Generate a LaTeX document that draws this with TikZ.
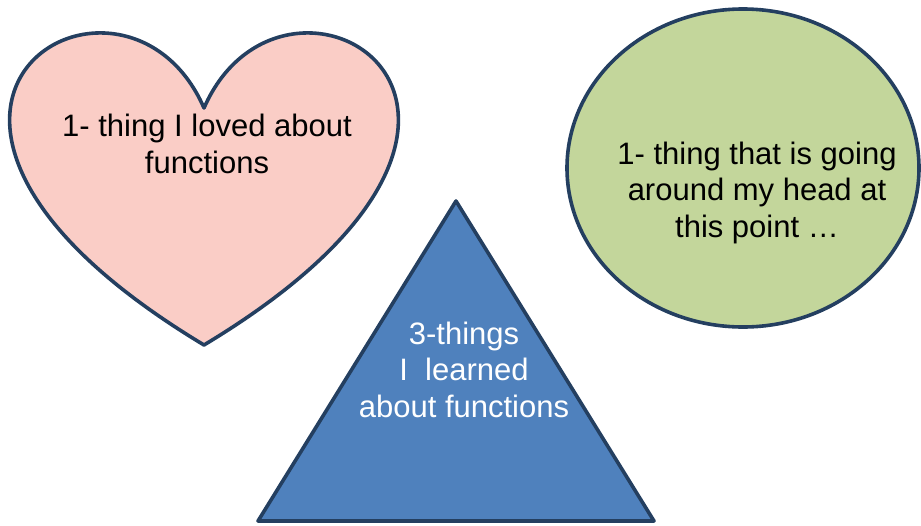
\documentclass[tikz,border=0pt]{standalone}
\usepackage{fontspec}
\setmainfont{Liberation Sans}
\definecolor{outl}{HTML}{243F60}
\definecolor{heartfill}{HTML}{FACDC6}
\definecolor{ovalfill}{HTML}{C3D69B}
\definecolor{trifill}{HTML}{4F81BD}
\begin{document}
\begin{tikzpicture}[x=1pt,y=-1pt,
  shapeline/.style={draw=outl,line width=3.6pt,line join=round},
  lbl/.style={font=\fontsize{31}{36.5}\selectfont,align=center,inner sep=0pt,anchor=base}]
\useasboundingbox (0,0) rectangle (921,525);
\begin{scope}
\clip (0,0) rectangle (921,525);
% heart
\coordinate (dip) at (204,108);
\coordinate (tip) at (204,345);
\draw[shapeline,fill=heartfill] (dip) .. controls (284.4,-76.3) and (598,108) .. (tip)
  .. controls (-190,108) and (123.6,-76.3) .. (dip) -- cycle;
% oval
\draw[shapeline,fill=ovalfill] (743,168) ellipse [x radius=176, y radius=159];
% triangle
\coordinate (apex) at (456,201);
\coordinate (bl) at (258,521);
\coordinate (br) at (654,521);
\draw[shapeline,fill=trifill] (apex) -- (br) -- (bl) -- cycle;
\end{scope}
\node[lbl] (heartText) at (207,173) {1- thing I loved about\\functions};
\node[lbl] (ovalText) at (757,237) {1- thing that is going\\around my head at\\this point \dots};
\node[lbl,text=white] (triText) at (464,417) {3-things\\I~\ learned\\about functions};
\end{tikzpicture}
\end{document}
